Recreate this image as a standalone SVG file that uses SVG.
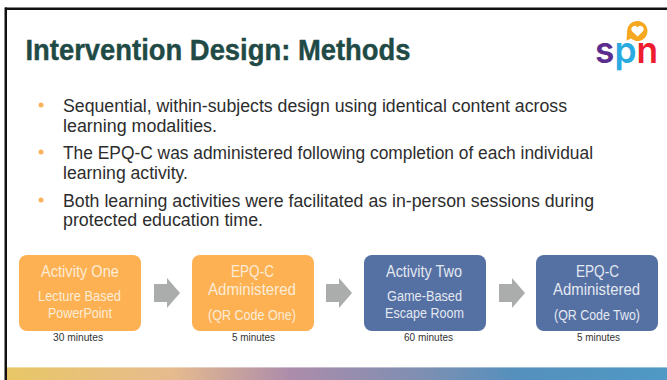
<svg xmlns="http://www.w3.org/2000/svg" width="667" height="380" viewBox="0 0 667 380">
<style>
text{font-family:"Liberation Sans",Arial,sans-serif}
.body{font-size:17.500px;fill:#2d2d2d}
.bul{fill:#fbb25c}
.big{font-size:17px;fill:#fcecd8}
.sm{font-size:15.500px;fill:#fcecd8}
.blue .big,.blue .sm{fill:#e3e8f1}
.dur{font-size:10.500px;fill:#333}
.o{fill:#fdb152}.b{fill:#5570a3}
.arr{fill:#aaadab}
.logo{font-size:37px;font-weight:600;font-family:Inter,"Liberation Sans",sans-serif}
</style>
<defs>
<linearGradient id="g" x1="0" y1="0" x2="1" y2="0">
<stop offset="0" stop-color="#e8c766"/>
<stop offset=".25" stop-color="#e6bb8e"/>
<stop offset=".43" stop-color="#ac8cab"/>
<stop offset=".64" stop-color="#7b8fb3"/>
<stop offset=".77" stop-color="#5590bd"/>
<stop offset="1" stop-color="#4f99c5"/>
</linearGradient>
</defs>
<rect width="667" height="380" fill="#fff"/>
<rect x="5" y="7.500" width="662" height="2.500" fill="#111"/>
<rect x="4.500" y="7.500" width="2.500" height="372.500" fill="#111"/>
<rect x="7" y="367" width="660" height="13" fill="url(#g)"/>
<rect x="7" y="367" width="660" height="1" fill="#fff" opacity=".4"/>
<text id="title" x="25.500" y="60" font-size="30" font-weight="700" fill="#1f4a45" stroke="#1f4a45" stroke-width=".4" textLength="385" lengthAdjust="spacingAndGlyphs">Intervention Design: Methods</text>
<g id="logo">
<path d="M637.500 21a10 10 0 1 1-6.500 17.600l-4.500 2.200.6-9.800A10 10 0 0 1 637.500 21z" fill="#f6a821"/>
<path d="M637.500 36.500l-5.500-5.300a3.300 3.300 0 0 1 5.500-3.700a3.300 3.300 0 0 1 5.500 3.700z" fill="#fff"/>
<text class="logo" x="595" y="63" textLength="63" lengthAdjust="spacingAndGlyphs"><tspan fill="#5b2d8e">s</tspan><tspan fill="#29abe2">p</tspan><tspan fill="#ed1c2e">n</tspan></text>
</g>
<g id="bullets">
<circle class="bul" cx="41" cy="105" r="2.500"/>
<text class="body" x="63" y="112" textLength="504" lengthAdjust="spacingAndGlyphs">Sequential, within-subjects design using identical content across</text>
<text class="body" x="63" y="131.500" textLength="154" lengthAdjust="spacingAndGlyphs">learning modalities.</text>
<circle class="bul" cx="41" cy="152" r="2.500"/>
<text class="body" x="63" y="159" textLength="530" lengthAdjust="spacingAndGlyphs">The EPQ-C was administered following completion of each individual</text>
<text class="body" x="63" y="179" textLength="125" lengthAdjust="spacingAndGlyphs">learning activity.</text>
<circle class="bul" cx="41" cy="200" r="2.500"/>
<text class="body" x="63" y="207" textLength="531" lengthAdjust="spacingAndGlyphs">Both learning activities were facilitated as in-person sessions during</text>
<text class="body" x="63" y="226" textLength="200" lengthAdjust="spacingAndGlyphs">protected education time.</text>
</g>
<g id="connectors">
<path class="arr" d="M154 284h13v-6l13 15-13 15v-6h-13z"/>
<path class="arr" d="M326 284h13v-6l13 15-13 15v-6h-13z"/>
<path class="arr" d="M499 284h13v-6l13 15-13 15v-6h-13z"/>
</g>
<g id="n1"><rect class="o" x="19" y="255" width="122" height="76" rx="8"/>
<text class="big" x="41" y="277" textLength="78" lengthAdjust="spacingAndGlyphs">Activity One</text>
<text class="sm" x="38" y="301" textLength="83" lengthAdjust="spacingAndGlyphs">Lecture Based</text>
<text class="sm" x="48" y="318" textLength="64" lengthAdjust="spacingAndGlyphs">PowerPoint</text>
<text class="dur" x="53" y="341" textLength="50" lengthAdjust="spacingAndGlyphs">30 minutes</text></g>
<g id="n2"><rect class="o" x="192" y="255" width="122" height="76" rx="8"/>
<text class="big" x="231" y="277" textLength="43" lengthAdjust="spacingAndGlyphs">EPQ-C</text>
<text class="big" x="208" y="295" textLength="88" lengthAdjust="spacingAndGlyphs">Administered</text>
<text class="sm" x="208" y="320" textLength="88" lengthAdjust="spacingAndGlyphs">(QR Code One)</text>
<text class="dur" x="232" y="341" textLength="43" lengthAdjust="spacingAndGlyphs">5 minutes</text></g>
<g id="n3" class="blue"><rect class="b" x="364" y="255" width="122" height="76" rx="8"/>
<text class="big" x="386" y="277" textLength="76" lengthAdjust="spacingAndGlyphs">Activity Two</text>
<text class="sm" x="387" y="301" textLength="75" lengthAdjust="spacingAndGlyphs">Game-Based</text>
<text class="sm" x="385" y="318" textLength="79" lengthAdjust="spacingAndGlyphs">Escape Room</text>
<text class="dur" x="404" y="341" textLength="49" lengthAdjust="spacingAndGlyphs">60 minutes</text></g>
<g id="n4" class="blue"><rect class="b" x="536" y="255" width="122" height="76" rx="8"/>
<text class="big" x="576" y="277" textLength="43" lengthAdjust="spacingAndGlyphs">EPQ-C</text>
<text class="big" x="553" y="295" textLength="87" lengthAdjust="spacingAndGlyphs">Administered</text>
<text class="sm" x="554" y="320" textLength="86" lengthAdjust="spacingAndGlyphs">(QR Code Two)</text>
<text class="dur" x="577" y="341" textLength="43" lengthAdjust="spacingAndGlyphs">5 minutes</text></g>
</svg>
